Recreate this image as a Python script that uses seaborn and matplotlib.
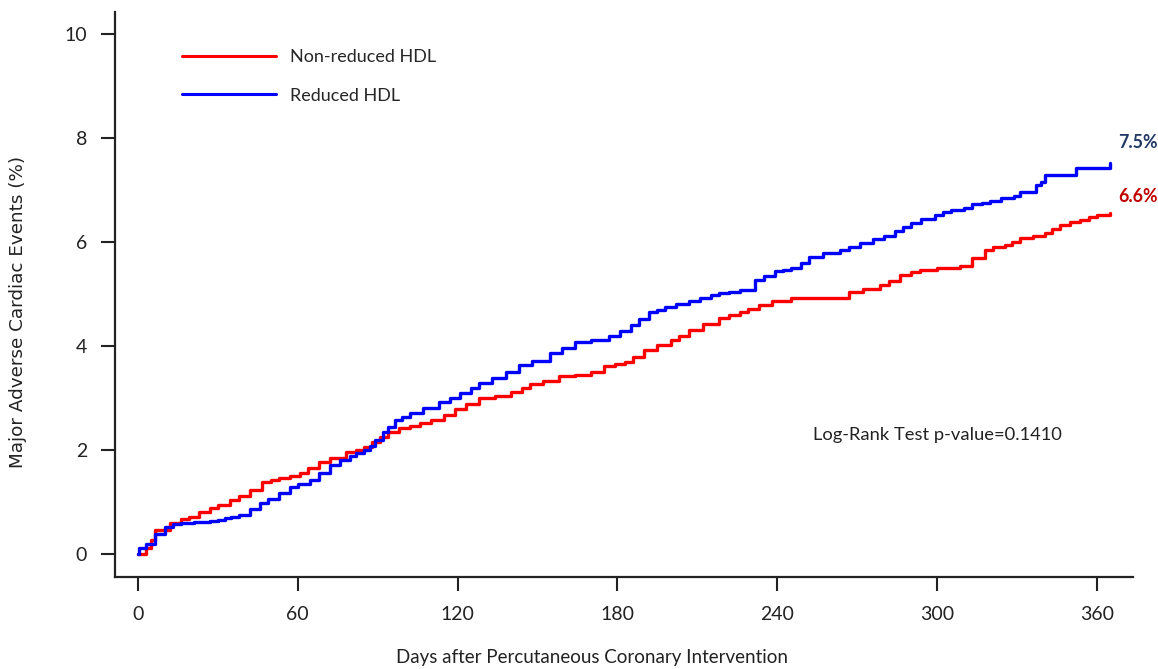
import matplotlib
matplotlib.use("Agg")
import matplotlib.pyplot as plt
import seaborn as sns
import pandas as pd

# ---- data ----
red_days = [0, 3, 5, 6.4, 12, 16, 19, 23, 27, 30, 34.5, 38, 42, 46.5, 50, 53, 57,
            61, 64, 68, 72, 78, 82, 85, 88, 91, 94, 98, 102, 106, 110, 115, 119,
            123, 128, 134, 140, 144, 147, 152, 158, 164, 170, 175, 179, 183, 186,
            190, 195, 200, 203, 207, 212, 218, 222, 226, 229, 233, 238, 245, 262,
            267, 272, 278.5, 282, 286, 290, 293.5, 300, 308.5, 313, 318, 321,
            325.5, 328, 331, 336, 340.5, 343, 346, 350, 353.6, 357, 360, 365]
red_vals = [0.0, 0.12, 0.27, 0.46, 0.6, 0.68, 0.72, 0.8, 0.88, 0.95, 1.04, 1.12,
            1.23, 1.38, 1.42, 1.46, 1.5, 1.56, 1.65, 1.77, 1.85, 1.96, 2.0, 2.06,
            2.15, 2.25, 2.35, 2.42, 2.46, 2.52, 2.58, 2.67, 2.78, 2.88, 3.0, 3.04,
            3.12, 3.2, 3.27, 3.33, 3.42, 3.45, 3.5, 3.62, 3.65, 3.69, 3.78, 3.92,
            4.02, 4.12, 4.2, 4.3, 4.42, 4.54, 4.6, 4.65, 4.72, 4.79, 4.86, 4.92,
            4.92, 5.04, 5.1, 5.17, 5.25, 5.37, 5.42, 5.46, 5.5, 5.54, 5.69, 5.85,
            5.9, 5.94, 6.0, 6.08, 6.12, 6.17, 6.25, 6.33, 6.38, 6.42, 6.48, 6.52,
            6.56]

blue_days = [0, 0.3, 3, 6.4, 10, 13, 16, 21, 27, 30, 32.7, 35, 38, 42, 46, 49, 53,
             57, 60, 64.5, 68, 72, 76, 79.6, 82, 85, 87, 89, 92, 94, 96.5, 99, 102,
             107, 113, 117, 121, 125, 128, 133, 138, 143, 148, 154.6, 159, 164,
             170, 177, 181, 185, 188, 192, 195, 198, 202, 207, 211, 215, 218, 222,
             226, 231.6, 235, 239, 242, 245, 249, 252, 257, 263.5, 267, 271, 276,
             280, 284, 287, 290, 294, 299, 302, 305, 310, 313, 317, 320, 324, 329,
             331, 337, 339, 340.5, 348, 352, 363, 365]
blue_vals = [0.0, 0.12, 0.2, 0.38, 0.52, 0.57, 0.6, 0.62, 0.63, 0.66, 0.69, 0.72,
             0.75, 0.86, 0.98, 1.06, 1.17, 1.29, 1.35, 1.42, 1.55, 1.71, 1.8, 1.88,
             1.94, 2.0, 2.08, 2.19, 2.35, 2.45, 2.58, 2.64, 2.71, 2.8, 2.92, 3.0,
             3.1, 3.2, 3.29, 3.38, 3.5, 3.63, 3.72, 3.87, 3.97, 4.08, 4.12, 4.19,
             4.28, 4.4, 4.52, 4.65, 4.7, 4.75, 4.8, 4.87, 4.92, 4.98, 5.02, 5.04,
             5.08, 5.27, 5.35, 5.44, 5.47, 5.5, 5.6, 5.71, 5.78, 5.85, 5.9, 5.98,
             6.05, 6.12, 6.21, 6.28, 6.37, 6.45, 6.52, 6.58, 6.62, 6.66, 6.72,
             6.74, 6.79, 6.84, 6.88, 6.96, 7.1, 7.15, 7.29, 7.29, 7.42, 7.42, 7.52]

groups = ["Non-reduced HDL", "Reduced HDL"]
colors = ["#FF0000", "#0000FF"]
x_ticks = [0, 60, 120, 180, 240, 300, 360]
y_ticks = [0, 2, 4, 6, 8, 10]
end_labels = ["6.6%", "7.5%"]
end_label_y = [6.87, 7.92]
end_label_colors = ["#C00000", "#1F3864"]
pvalue_text = "Log-Rank Test p-value=0.1410"

df = pd.concat([
    pd.DataFrame({"day": red_days, "pct": red_vals, "group": groups[0]}),
    pd.DataFrame({"day": blue_days, "pct": blue_vals, "group": groups[1]}),
], ignore_index=True)

sns.set_style("ticks")
plt.rcParams["font.family"] = ["Lato", "DejaVu Sans"]

fig = plt.figure(figsize=(11.58, 6.69), dpi=100)
ax = fig.add_axes([115 / 1158, 1 - 577 / 669, (1133 - 115) / 1158, (577 - 12) / 669])

sns.lineplot(data=df, x="day", y="pct", hue="group", hue_order=groups,
             palette=dict(zip(groups, colors)), drawstyle="steps-post",
             linewidth=2.4, sort=False, estimator=None, ax=ax)

ax.set_xlim(-8.6, 373.5)
ax.set_ylim(-0.44, 10.42)
ax.set_xticks(x_ticks)
ax.set_yticks(y_ticks)
ax.tick_params(axis="both", direction="out", length=10, width=1.5,
               labelsize=14, colors="#222222")
ax.tick_params(axis="x", pad=11)
ax.tick_params(axis="y", pad=10)
for s in ["top", "right"]:
    ax.spines[s].set_visible(False)
for s in ["left", "bottom"]:
    ax.spines[s].set_linewidth(1.6)
    ax.spines[s].set_color("#222222")
ax.set_xlabel("")
ax.set_ylabel("")

fig.text(592 / 1158, 1 - 658 / 669, "Days after Percutaneous Coronary Intervention",
         ha="center", va="center", fontsize=13.5, color="#222222")
fig.text(18 / 1158, 1 - 312 / 669, "Major Adverse Cardiac Events (%)",
         ha="center", va="center", rotation=90, fontsize=13.2, color="#222222",
         family=["Liberation Sans Narrow", "DejaVu Sans"])

leg = ax.legend(loc="upper left", bbox_to_anchor=(60 / 1018, 1 - 30 / 565),
                frameon=False, fontsize=13, handlelength=5.2,
                handletextpad=0.75, labelspacing=1.25, borderaxespad=0)
for line in leg.get_lines():
    line.set_linewidth(2.2)

for lab, yv, c in zip(end_labels, end_label_y, end_label_colors):
    ax.text(367.9, yv, lab, color=c, fontsize=12.8, fontweight="bold",
            ha="left", va="center", clip_on=False)

ax.text(253.4, 2.29, pvalue_text, fontsize=13.2, color="#222222",
        ha="left", va="center")

fig.savefig("out.png", dpi=100)
